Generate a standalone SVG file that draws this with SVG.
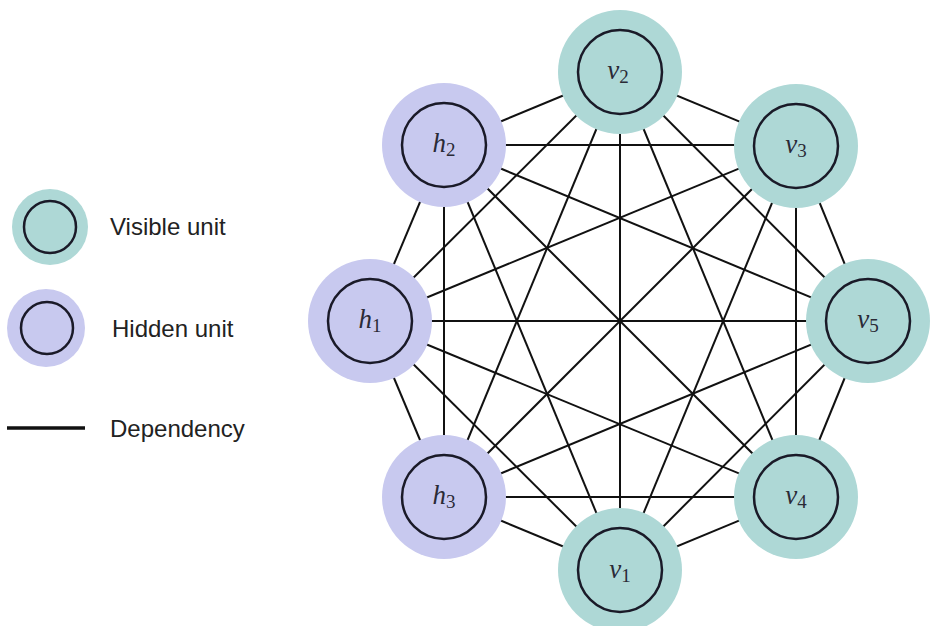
<svg xmlns="http://www.w3.org/2000/svg" width="930" height="626" viewBox="0 0 930 626">
<style>
.edge{stroke:#111;stroke-width:2;fill:none}
.vis{fill:#aed8d6}
.hid{fill:#c8c9ef}
.inner{fill:none;stroke:#1a1a28;stroke-width:2.5}
.lbl{font-family:"Liberation Serif",serif;font-size:27px;fill:#2a2a36;text-anchor:middle}
.lbl .m{font-style:italic}
.lbl .s{font-size:19px}
.leg{font-family:"Liberation Sans",Arial,sans-serif;font-size:24px;fill:#222}
</style>
<rect width="930" height="626" fill="#fff"/>
<g id="connectors">
<line class="edge" x1="620" y1="72" x2="796" y2="145"/>
<line class="edge" x1="620" y1="72" x2="868" y2="321"/>
<line class="edge" x1="620" y1="72" x2="796" y2="497"/>
<line class="edge" x1="620" y1="72" x2="620" y2="570"/>
<line class="edge" x1="620" y1="72" x2="444" y2="497"/>
<line class="edge" x1="620" y1="72" x2="370" y2="321"/>
<line class="edge" x1="620" y1="72" x2="444" y2="145"/>
<line class="edge" x1="796" y1="145" x2="868" y2="321"/>
<line class="edge" x1="796" y1="145" x2="796" y2="497"/>
<line class="edge" x1="796" y1="145" x2="620" y2="570"/>
<line class="edge" x1="796" y1="145" x2="444" y2="497"/>
<line class="edge" x1="796" y1="145" x2="370" y2="321"/>
<line class="edge" x1="796" y1="145" x2="444" y2="145"/>
<line class="edge" x1="868" y1="321" x2="796" y2="497"/>
<line class="edge" x1="868" y1="321" x2="620" y2="570"/>
<line class="edge" x1="868" y1="321" x2="444" y2="497"/>
<line class="edge" x1="868" y1="321" x2="370" y2="321"/>
<line class="edge" x1="868" y1="321" x2="444" y2="145"/>
<line class="edge" x1="796" y1="497" x2="620" y2="570"/>
<line class="edge" x1="796" y1="497" x2="444" y2="497"/>
<line class="edge" x1="796" y1="497" x2="370" y2="321"/>
<line class="edge" x1="796" y1="497" x2="444" y2="145"/>
<line class="edge" x1="620" y1="570" x2="444" y2="497"/>
<line class="edge" x1="620" y1="570" x2="370" y2="321"/>
<line class="edge" x1="620" y1="570" x2="444" y2="145"/>
<line class="edge" x1="444" y1="497" x2="370" y2="321"/>
<line class="edge" x1="444" y1="497" x2="444" y2="145"/>
<line class="edge" x1="370" y1="321" x2="444" y2="145"/>
</g>
<g id="v2"><circle class="vis" cx="620" cy="72" r="62"/><circle class="inner" cx="620" cy="72" r="42"/><text class="lbl" x="618" y="79"><tspan class="m">v</tspan><tspan class="s" dy="4">2</tspan></text></g>
<g id="v3"><circle class="vis" cx="796" cy="146" r="62"/><circle class="inner" cx="796" cy="146" r="42"/><text class="lbl" x="796" y="153"><tspan class="m">v</tspan><tspan class="s" dy="4">3</tspan></text></g>
<g id="v5"><circle class="vis" cx="868" cy="321" r="62"/><circle class="inner" cx="868" cy="321" r="42"/><text class="lbl" x="868" y="328"><tspan class="m">v</tspan><tspan class="s" dy="4">5</tspan></text></g>
<g id="v4"><circle class="vis" cx="796" cy="497" r="62"/><circle class="inner" cx="796" cy="497" r="42"/><text class="lbl" x="796" y="504"><tspan class="m">v</tspan><tspan class="s" dy="4">4</tspan></text></g>
<g id="v1"><circle class="vis" cx="620" cy="570" r="62"/><circle class="inner" cx="620" cy="570" r="42"/><text class="lbl" x="620" y="578"><tspan class="m">v</tspan><tspan class="s" dy="4">1</tspan></text></g>
<g id="h3"><circle class="hid" cx="444" cy="497" r="62"/><circle class="inner" cx="444" cy="497" r="42"/><text class="lbl" x="444" y="504"><tspan class="m">h</tspan><tspan class="s" dy="4">3</tspan></text></g>
<g id="h1"><circle class="hid" cx="370" cy="321" r="62"/><circle class="inner" cx="370" cy="321" r="42"/><text class="lbl" x="370" y="328"><tspan class="m">h</tspan><tspan class="s" dy="4">1</tspan></text></g>
<g id="h2"><circle class="hid" cx="444" cy="145" r="62"/><circle class="inner" cx="444" cy="145" r="42"/><text class="lbl" x="444" y="152"><tspan class="m">h</tspan><tspan class="s" dy="4">2</tspan></text></g>
<g id="legend">
<g id="legend-visible"><circle class="vis" cx="50" cy="227" r="38"/><circle class="inner" cx="50" cy="227" r="26"/><text class="leg" x="110" y="235">Visible unit</text></g>
<g id="legend-hidden"><circle class="hid" cx="46" cy="328" r="39"/><circle class="inner" cx="47" cy="328" r="26"/><text class="leg" x="112" y="337">Hidden unit</text></g>
<g id="legend-dependency"><line x1="7" y1="428" x2="85" y2="428" stroke="#111" stroke-width="3.5"/><text class="leg" x="110" y="437">Dependency</text></g>
</g>
</svg>
